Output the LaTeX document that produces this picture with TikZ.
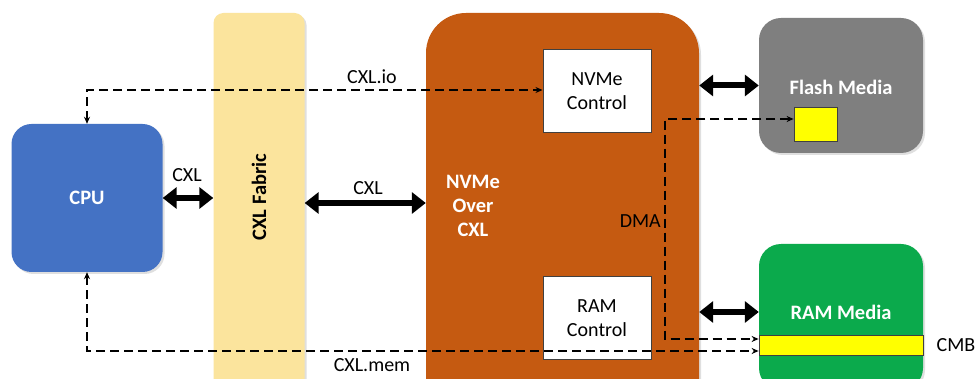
\documentclass[tikz,border=0pt]{standalone}
\usepackage{fontspec}
\setmainfont{Carlito}
\usetikzlibrary{arrows.meta,calc,shadows}
\definecolor{cpublue}{HTML}{4472C4}
\definecolor{fabricyel}{HTML}{FBE49D}
\definecolor{nvmeor}{HTML}{C55A11}
\definecolor{flashgray}{HTML}{7F7F7F}
\definecolor{ramgreen}{HTML}{0BAA4C}
\definecolor{cmbyel}{HTML}{FFFF00}
\definecolor{edgegray}{HTML}{404040}
\tikzset{
  every node/.style={font=\fontsize{20}{24}\selectfont},
  bigbox/.style={draw=none, rounded corners=#1, drop shadow={opacity=0.25,shadow xshift=2pt,shadow yshift=-2pt}},
  ctrlbox/.style={draw=edgegray, line width=1pt, fill=white, minimum width=108pt, align=center},
  yelbox/.style={draw=edgegray, line width=0.8pt, fill=cmbyel},
  whitebold/.style={text=white, font=\fontsize{20.5}{24}\selectfont\bfseries},
  thick arrow/.style={line width=6pt, {Triangle[width=21pt,length=14pt]}-{Triangle[width=21pt,length=14pt]}},
  dash arrow/.style={line width=1.8pt, dash pattern=on 9pt off 5pt, {Stealth[length=7pt,width=6pt]}-{Stealth[length=7pt,width=6pt]}},
}
\begin{document}
\begin{tikzpicture}[x=1pt,y=-1pt]
\useasboundingbox (0,0) rectangle (977,379);
\clip (0,0) rectangle (977,379);
\fill[white] (0,0) rectangle (977,379);
% big boxes
\node[bigbox=20pt, fill=cpublue, minimum width=151pt, minimum height=148pt, whitebold] (cpu) at (87,198) {CPU};
\node[bigbox=10pt, fill=fabricyel, minimum width=91pt, minimum height=387pt] (fabric) at (259,206.5) {};
\node[rotate=90, font=\fontsize{20.5}{24}\selectfont\bfseries] (fabriclbl) at (259,197) {CXL Fabric};
\node[bigbox=40pt, fill=nvmeor, minimum width=273pt, minimum height=407pt] (nvme) at (562.5,216.5) {};
\node[whitebold, align=center] (nvmelbl) at (473,206) {NVMe\\[0pt]Over\\[0pt]CXL};
\node[ctrlbox, minimum height=83pt] (nvmectrl) at (597,91.5) {NVMe\\Control};
\node[ctrlbox, minimum height=82pt] (ramctrl) at (597,318) {RAM\\Control};
\node[bigbox=22pt, fill=flashgray, minimum width=164pt, minimum height=135pt] (flash) at (841,85.5) {};
\node[whitebold] (flashlbl) at (841,87) {Flash Media};
\node[yelbox, minimum width=43pt, minimum height=34pt] (fy) at (815.5,124) {};
\node[bigbox=22pt, fill=ramgreen, minimum width=164pt, minimum height=146pt] (ram) at (841,317) {};
\node[whitebold] (ramlbl) at (841,312) {RAM Media};
\node[yelbox, minimum width=164pt, minimum height=20pt] (cmb) at (841,345) {};
% labels
\node (cxl1) at (187,175) {CXL};
\node (cxl2) at (368,188) {CXL};
\node (cxlio) at (372,77) {CXL.io};
\node (cxlmem) at (372,365) {CXL.mem};
\node[anchor=east, inner sep=0pt] (dma) at (661,221) {DMA};
\node (cmblbl) at (956,345) {CMB};
% thick arrows
\draw[thick arrow] (cpu.east) -- (cpu.east -| fabric.west);
\draw[thick arrow] ($(fabric.east)+(0,-3.5)$) -- ($(fabric.east -| nvme.west)+(0,-3.5)$);
\draw[thick arrow] (flash.west -| nvme.east) -- (flash.west);
\draw[thick arrow] (ramlbl -| nvme.east) -- (ramlbl -| ram.west);
% dashed connectors
\draw[dash arrow] (cpu.north) |- ($(nvmectrl.west)+(0,-1.5)$);
\draw[dash arrow] (cpu.south) |- ($(cmb.west)+(0,6)$);
\coordinate (dmatop) at (665,119);
\coordinate (dmabot) at (665,339);
\draw[dash arrow] ($(fy.west)+(0,-5)$) -- (dmatop) -- (dmabot) -- ($(cmb.west)+(0,-6)$);
\end{tikzpicture}
\end{document}
